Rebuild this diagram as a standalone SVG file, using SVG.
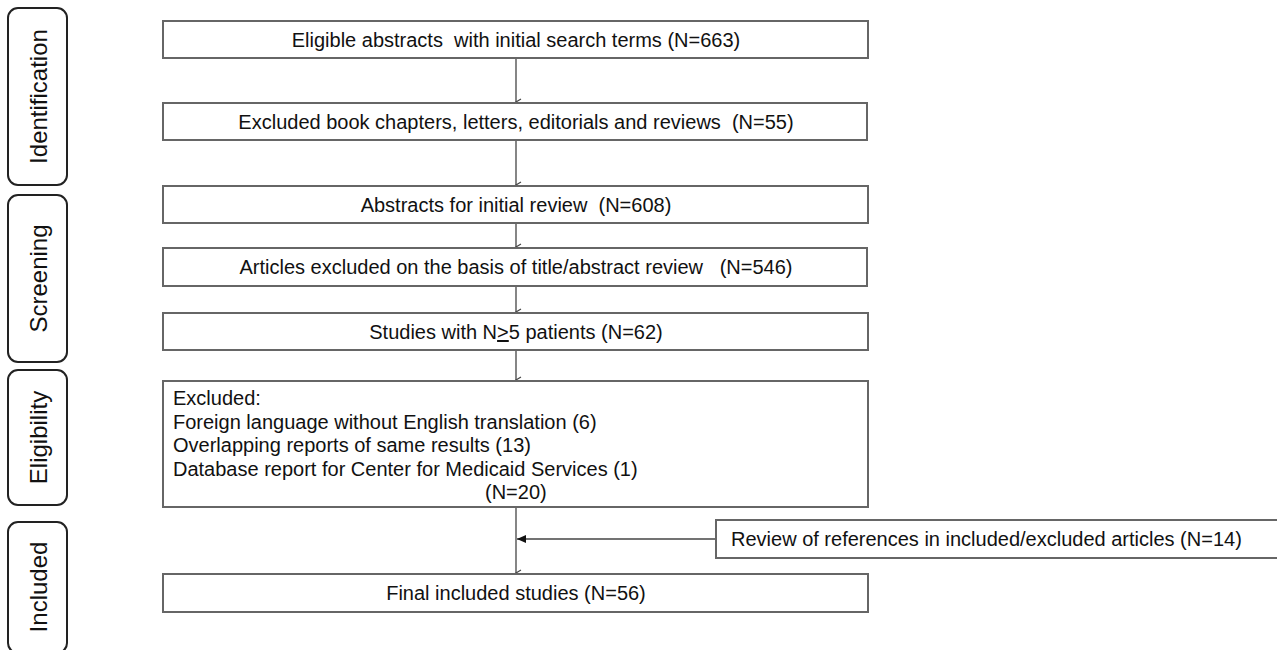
<svg xmlns="http://www.w3.org/2000/svg" width="1277" height="650" viewBox="0 0 1277 650">
<defs>
<style>
.box{fill:#fff;stroke:#666;stroke-width:2}
.lab{fill:#fff;stroke:#222;stroke-width:2}
.t{font-family:"Liberation Sans",Arial,sans-serif;font-size:20px;fill:#111}
.tc{text-anchor:middle}
.lt{font-family:"Liberation Sans",Arial,sans-serif;font-size:24px;fill:#111;text-anchor:middle}
.c{stroke:#444;stroke-width:1.3;fill:none}
</style>
<marker id="open" markerWidth="10" markerHeight="8" refX="4" refY="6" orient="auto-start-reverse" markerUnits="userSpaceOnUse" viewBox="0 0 8 8">
<path d="M1,1 L4,6 L7,1" fill="none" stroke="#444" stroke-width="1.2"/>
</marker>
<marker id="solid" markerWidth="10" markerHeight="8" refX="9" refY="4" orient="auto" markerUnits="userSpaceOnUse" viewBox="0 0 10 8">
<path d="M0,0 L9,4 L0,8 Z" fill="#111"/>
</marker>
</defs>
<rect width="1277" height="650" fill="#fff"/>

<g id="label-identification"><rect class="lab" x="8" y="8" width="59" height="177" rx="10"/><text class="lt" transform="translate(46.5,96.5) rotate(-90)">Identification</text></g>
<g id="label-screening"><rect class="lab" x="8" y="195" width="59" height="167" rx="10"/><text class="lt" transform="translate(46.5,278.5) rotate(-90)">Screening</text></g>
<g id="label-eligibility"><rect class="lab" x="8" y="370" width="59" height="135" rx="10"/><text class="lt" transform="translate(46.5,437.5) rotate(-90)">Eligibility</text></g>
<g id="label-included"><rect class="lab" x="8" y="522" width="59" height="131" rx="10"/><text class="lt" transform="translate(46.5,587) rotate(-90)">Included</text></g>

<g id="connectors">
<line class="c" x1="516" y1="58" x2="516" y2="102" marker-end="url(#open)"/>
<line class="c" x1="516" y1="140" x2="516" y2="185" marker-end="url(#open)"/>
<line class="c" x1="516" y1="223" x2="516" y2="247" marker-end="url(#open)"/>
<line class="c" x1="516" y1="286" x2="516" y2="312" marker-end="url(#open)"/>
<line class="c" x1="516" y1="350" x2="516" y2="380" marker-end="url(#open)"/>
<line class="c" x1="516" y1="507" x2="516" y2="573" marker-end="url(#open)"/>
<line class="c" x1="716" y1="539" x2="517" y2="539" marker-end="url(#solid)"/>
</g>

<g id="n1"><rect class="box" x="163" y="21" width="705" height="37"/><text class="t tc" x="516" y="47" xml:space="preserve">Eligible abstracts  with initial search terms (N=663)</text></g>
<g id="n2"><rect class="box" x="163" y="103" width="704" height="37"/><text class="t tc" x="516" y="129" xml:space="preserve">Excluded book chapters, letters, editorials and reviews  (N=55)</text></g>
<g id="n3"><rect class="box" x="163" y="186" width="705" height="37"/><text class="t tc" x="516" y="212" xml:space="preserve">Abstracts for initial review  (N=608)</text></g>
<g id="n4"><rect class="box" x="163" y="248" width="704" height="38"/><text class="t tc" x="516" y="274" xml:space="preserve">Articles excluded on the basis of title/abstract review   (N=546)</text></g>
<g id="n5"><rect class="box" x="163" y="313" width="705" height="37"/><text class="t tc" x="516" y="339">Studies with N<tspan text-decoration="underline">&gt;</tspan>5 patients (N=62)</text></g>
<g id="n6"><rect class="box" x="163" y="381" width="705" height="126"/>
<text class="t" x="173" y="405">Excluded:</text>
<text class="t" x="173" y="429">Foreign language without English translation (6)</text>
<text class="t" x="173" y="452">Overlapping reports of same results (13)</text>
<text class="t" x="173" y="476">Database report for Center for Medicaid Services (1)</text>
<text class="t" x="485" y="499">(N=20)</text>
</g>
<g id="n7"><rect class="box" x="716" y="520" width="570" height="38"/><text class="t" x="731" y="546">Review of references in included/excluded articles (N=14)</text></g>
<g id="n8"><rect class="box" x="163" y="574" width="705" height="38"/><text class="t tc" x="516" y="600">Final included studies (N=56)</text></g>
</svg>
